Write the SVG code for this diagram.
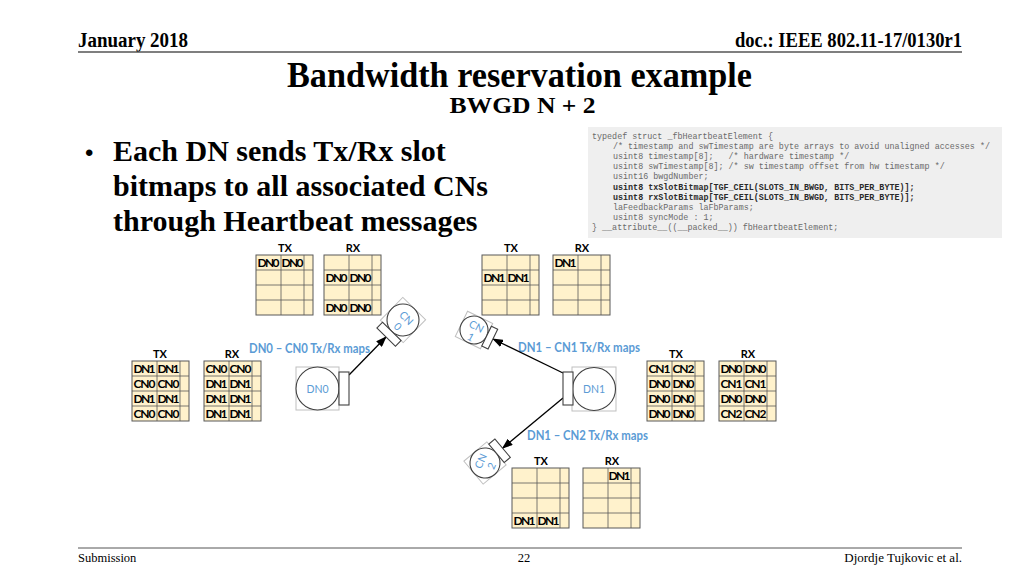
<svg xmlns="http://www.w3.org/2000/svg" width="1024" height="576" viewBox="0 0 1024 576">
<style>
.hdr{font-family:"Liberation Serif","Times New Roman",serif;font-weight:bold;fill:#000}
.code{font-family:"Liberation Mono","Courier New",monospace;font-size:8.4px;fill:#6a6a6a;white-space:pre}
.codeb{font-weight:bold;fill:#2a2a2a}
.cell{font-family:Lato,"Open Sans",sans-serif;font-weight:bold;font-size:12px;fill:#000;text-anchor:middle}
.th{font-family:Lato,"Open Sans",sans-serif;font-weight:bold;font-size:11px;fill:#000;text-anchor:middle}
.blue{font-family:Lato,"Open Sans",sans-serif;font-weight:bold;font-size:12.5px;fill:#5b9bd5}
.nlab{font-family:Lato,"Open Sans",sans-serif;font-size:10.5px;fill:#5b9bd5;text-anchor:middle}
.tbox{fill:#fff2cc;stroke:#595959;stroke-width:1}
.tgrid{fill:none;stroke:#595959;stroke-width:0.8}
.bbox{fill:none;stroke:#bfbfbf;stroke-width:1}
.circ{fill:#fff;stroke:#404040;stroke-width:1.1}
.ant{fill:#fff;stroke:#404040;stroke-width:1.1}
.conn{stroke:#000;stroke-width:1.3;fill:none}
.foot{font-family:"Liberation Serif","Times New Roman",serif;fill:#000}
</style>
<defs>
<marker id="arr" markerUnits="userSpaceOnUse" markerWidth="11" markerHeight="8" refX="10" refY="4" orient="auto">
<path d="M0,0 L11,4 L0,8 z" fill="#000"/>
</marker>
<g id="grid">
<rect x="0" y="0" width="57" height="60" class="tbox"/>
<path d="M25 0V60M48 0V60M0 15H57M0 30H57M0 45H57" class="tgrid"/>
</g>
</defs>
<rect x="0" y="0" width="1024" height="576" fill="#fff"/>

<!-- header -->
<g id="header">
<text class="hdr" x="78" y="47" font-size="20" textLength="110" lengthAdjust="spacingAndGlyphs">January 2018</text>
<text class="hdr" x="962" y="47" font-size="20" text-anchor="end" textLength="227" lengthAdjust="spacingAndGlyphs">doc.: IEEE 802.11-17/0130r1</text>
<line x1="78" y1="52" x2="962" y2="52" stroke="#555" stroke-width="1.5"/>
<text class="hdr" x="519.5" y="87" font-size="35" text-anchor="middle" textLength="465" lengthAdjust="spacingAndGlyphs">Bandwidth reservation example</text>
<text class="hdr" x="522.5" y="113" font-size="23" text-anchor="middle" textLength="146" lengthAdjust="spacingAndGlyphs">BWGD N + 2</text>
</g>

<!-- bullet -->
<g id="bullet">
<text x="85" y="161" font-family="Liberation Sans, Arial, sans-serif" font-size="24">•</text>
<text class="hdr" x="113" y="161" font-size="30">Each DN sends Tx/Rx slot</text>
<text class="hdr" x="113" y="196" font-size="30">bitmaps to all associated CNs</text>
<text class="hdr" x="113" y="231" font-size="30">through Heartbeat messages</text>
</g>

<!-- code box -->
<g id="code">
<rect x="588" y="127" width="414" height="111" fill="#efefef"/>
<text class="code" x="592" y="139">typedef struct _fbHeartbeatElement {</text>
<text class="code" x="613" y="149.1">/* timestamp and swTimestamp are byte arrays to avoid unaligned accesses */</text>
<text class="code" x="613" y="159.2">usint8 timestamp[8];   /* hardware timestamp */</text>
<text class="code" x="613" y="169.3">usint8 swTimestamp[8]; /* sw timestamp offset from hw timestamp */</text>
<text class="code" x="613" y="179.4">usint16 bwgdNumber;</text>
<text class="code codeb" x="613" y="189.5">usint8 txSlotBitmap[TGF_CEIL(SLOTS_IN_BWGD, BITS_PER_BYTE)];</text>
<text class="code codeb" x="613" y="199.6">usint8 rxSlotBitmap[TGF_CEIL(SLOTS_IN_BWGD, BITS_PER_BYTE)];</text>
<text class="code" x="613" y="209.7">laFeedbackParams laFbParams;</text>
<text class="code" x="613" y="219.8">usint8 syncMode : 1;</text>
<text class="code" x="592" y="229.9">} __attribute__((__packed__)) fbHeartbeatElement;</text>
</g>

<!-- tables: top-left (DN0-CN0) -->
<g id="tbl-cn0-tx">
<text class="th" x="285" y="252">TX</text>
<use href="#grid" x="256" y="255"/>
<text class="cell" x="268.5" y="267" textLength="22">DN0</text>
<text class="cell" x="292.5" y="267" textLength="22">DN0</text>
</g>
<g id="tbl-cn0-rx">
<text class="th" x="353" y="252">RX</text>
<use href="#grid" x="324" y="255"/>
<text class="cell" x="336.5" y="282" textLength="22">DN0</text>
<text class="cell" x="360.5" y="282" textLength="22">DN0</text>
<text class="cell" x="336.5" y="312" textLength="22">DN0</text>
<text class="cell" x="360.5" y="312" textLength="22">DN0</text>
</g>

<!-- tables: top-right (DN1-CN1) -->
<g id="tbl-cn1-tx">
<text class="th" x="511" y="252">TX</text>
<use href="#grid" x="482" y="255"/>
<text class="cell" x="494.5" y="282" textLength="22">DN1</text>
<text class="cell" x="518.5" y="282" textLength="22">DN1</text>
</g>
<g id="tbl-cn1-rx">
<text class="th" x="582" y="252">RX</text>
<use href="#grid" x="553" y="255"/>
<text class="cell" x="565.5" y="267" textLength="22">DN1</text>
</g>

<!-- tables: left (DN0) -->
<g id="tbl-dn0-tx">
<text class="th" x="160" y="358">TX</text>
<use href="#grid" x="132" y="361"/>
<text class="cell" x="144.5" y="373" textLength="22">DN1</text>
<text class="cell" x="168.5" y="373" textLength="22">DN1</text>
<text class="cell" x="144.5" y="388" textLength="22">CN0</text>
<text class="cell" x="168.5" y="388" textLength="22">CN0</text>
<text class="cell" x="144.5" y="403" textLength="22">DN1</text>
<text class="cell" x="168.5" y="403" textLength="22">DN1</text>
<text class="cell" x="144.5" y="418" textLength="22">CN0</text>
<text class="cell" x="168.5" y="418" textLength="22">CN0</text>
</g>
<g id="tbl-dn0-rx">
<text class="th" x="232" y="358">RX</text>
<use href="#grid" x="204" y="361"/>
<text class="cell" x="216.5" y="373" textLength="22">CN0</text>
<text class="cell" x="240.5" y="373" textLength="22">CN0</text>
<text class="cell" x="216.5" y="388" textLength="22">DN1</text>
<text class="cell" x="240.5" y="388" textLength="22">DN1</text>
<text class="cell" x="216.5" y="403" textLength="22">DN1</text>
<text class="cell" x="240.5" y="403" textLength="22">DN1</text>
<text class="cell" x="216.5" y="418" textLength="22">DN1</text>
<text class="cell" x="240.5" y="418" textLength="22">DN1</text>
</g>

<!-- tables: right (DN1) -->
<g id="tbl-dn1-tx">
<text class="th" x="676" y="358">TX</text>
<use href="#grid" x="647" y="361"/>
<text class="cell" x="659.5" y="373" textLength="22">CN1</text>
<text class="cell" x="683.5" y="373" textLength="22">CN2</text>
<text class="cell" x="659.5" y="388" textLength="22">DN0</text>
<text class="cell" x="683.5" y="388" textLength="22">DN0</text>
<text class="cell" x="659.5" y="403" textLength="22">DN0</text>
<text class="cell" x="683.5" y="403" textLength="22">DN0</text>
<text class="cell" x="659.5" y="418" textLength="22">DN0</text>
<text class="cell" x="683.5" y="418" textLength="22">DN0</text>
</g>
<g id="tbl-dn1-rx">
<text class="th" x="748" y="358">RX</text>
<use href="#grid" x="719" y="361"/>
<text class="cell" x="731.5" y="373" textLength="22">DN0</text>
<text class="cell" x="755.5" y="373" textLength="22">DN0</text>
<text class="cell" x="731.5" y="388" textLength="22">CN1</text>
<text class="cell" x="755.5" y="388" textLength="22">CN1</text>
<text class="cell" x="731.5" y="403" textLength="22">DN0</text>
<text class="cell" x="755.5" y="403" textLength="22">DN0</text>
<text class="cell" x="731.5" y="418" textLength="22">CN2</text>
<text class="cell" x="755.5" y="418" textLength="22">CN2</text>
</g>

<!-- tables: bottom (DN1-CN2) -->
<g id="tbl-cn2-tx">
<text class="th" x="541" y="465">TX</text>
<use href="#grid" x="512" y="468"/>
<text class="cell" x="524.5" y="525" textLength="22">DN1</text>
<text class="cell" x="548.5" y="525" textLength="22">DN1</text>
</g>
<g id="tbl-cn2-rx">
<text class="th" x="612" y="465">RX</text>
<use href="#grid" x="583" y="468"/>
<text class="cell" x="619.5" y="480" textLength="22">DN1</text>
</g>

<!-- blue labels -->
<g id="labels">
<text class="blue" x="249" y="353" textLength="121" lengthAdjust="spacingAndGlyphs">DN0 – CN0 Tx/Rx maps</text>
<text class="blue" x="518" y="352" textLength="122" lengthAdjust="spacingAndGlyphs">DN1 – CN1 Tx/Rx maps</text>
<text class="blue" x="527" y="440" textLength="121" lengthAdjust="spacingAndGlyphs">DN1 – CN2 Tx/Rx maps</text>
</g>

<!-- connectors -->
<g id="connectors">
<line class="conn" x1="349" y1="375" x2="386" y2="337" marker-end="url(#arr)"/>
<line class="conn" x1="563" y1="373" x2="493" y2="339" marker-end="url(#arr)"/>
<line class="conn" x1="563" y1="398" x2="502.6" y2="448.2" marker-end="url(#arr)"/>
</g>

<!-- nodes -->
<g id="DN0">
<rect class="bbox" x="296" y="367" width="43" height="43"/>
<circle class="circ" cx="317.5" cy="388.5" r="21.5"/>
<rect class="ant" x="339" y="372" width="10" height="33"/>
<text class="nlab" x="317.5" y="392.5">DN0</text>
</g>
<g id="DN1">
<rect class="bbox" x="572" y="367" width="44" height="44"/>
<circle class="circ" cx="594" cy="389" r="21.5"/>
<rect class="ant" x="563" y="372" width="10" height="33"/>
<text class="nlab" x="594" y="393">DN1</text>
</g>
<g id="CN0" transform="translate(403,320)">
<g transform="rotate(134.5)">
<rect class="bbox" x="-16" y="-16" width="32" height="32"/>
<circle class="circ" cx="0" cy="0" r="16"/>
<rect class="ant" x="16" y="-13" width="8" height="26"/>
</g>
<g transform="rotate(45)">
<text class="nlab" x="1" y="0">CN</text>
<text class="nlab" x="1" y="12">0</text>
</g>
</g>
<g id="CN1" transform="translate(474,330)">
<g transform="rotate(26)">
<rect class="bbox" x="-14" y="-14" width="28" height="28"/>
<circle class="circ" cx="0" cy="0" r="14"/>
<rect class="ant" x="14" y="-11" width="7" height="22"/>
</g>
<g transform="rotate(28)">
<text class="nlab" x="0.5" y="-0.5">CN</text>
<text class="nlab" x="0.5" y="11.5">1</text>
</g>
</g>
<g id="CN2" transform="translate(485,463)">
<g transform="rotate(-40)">
<rect class="bbox" x="-15" y="-15" width="30" height="30"/>
<circle class="circ" cx="0" cy="0" r="15"/>
<rect class="ant" x="15" y="-12" width="8" height="24"/>
</g>
<g transform="rotate(-66)">
<text class="nlab" x="0" y="-1">CN</text>
<text class="nlab" x="0" y="11">2</text>
</g>
</g>

<!-- footer -->
<g id="footer">
<line x1="78" y1="548" x2="962" y2="548" stroke="#555" stroke-width="1"/>
<text class="foot" x="78" y="562" font-size="12.5">Submission</text>
<text class="foot" x="524" y="562" font-size="12.5" text-anchor="middle">22</text>
<text class="foot" x="962" y="562" font-size="13" text-anchor="end">Djordje Tujkovic et al.</text>
</g>
</svg>
